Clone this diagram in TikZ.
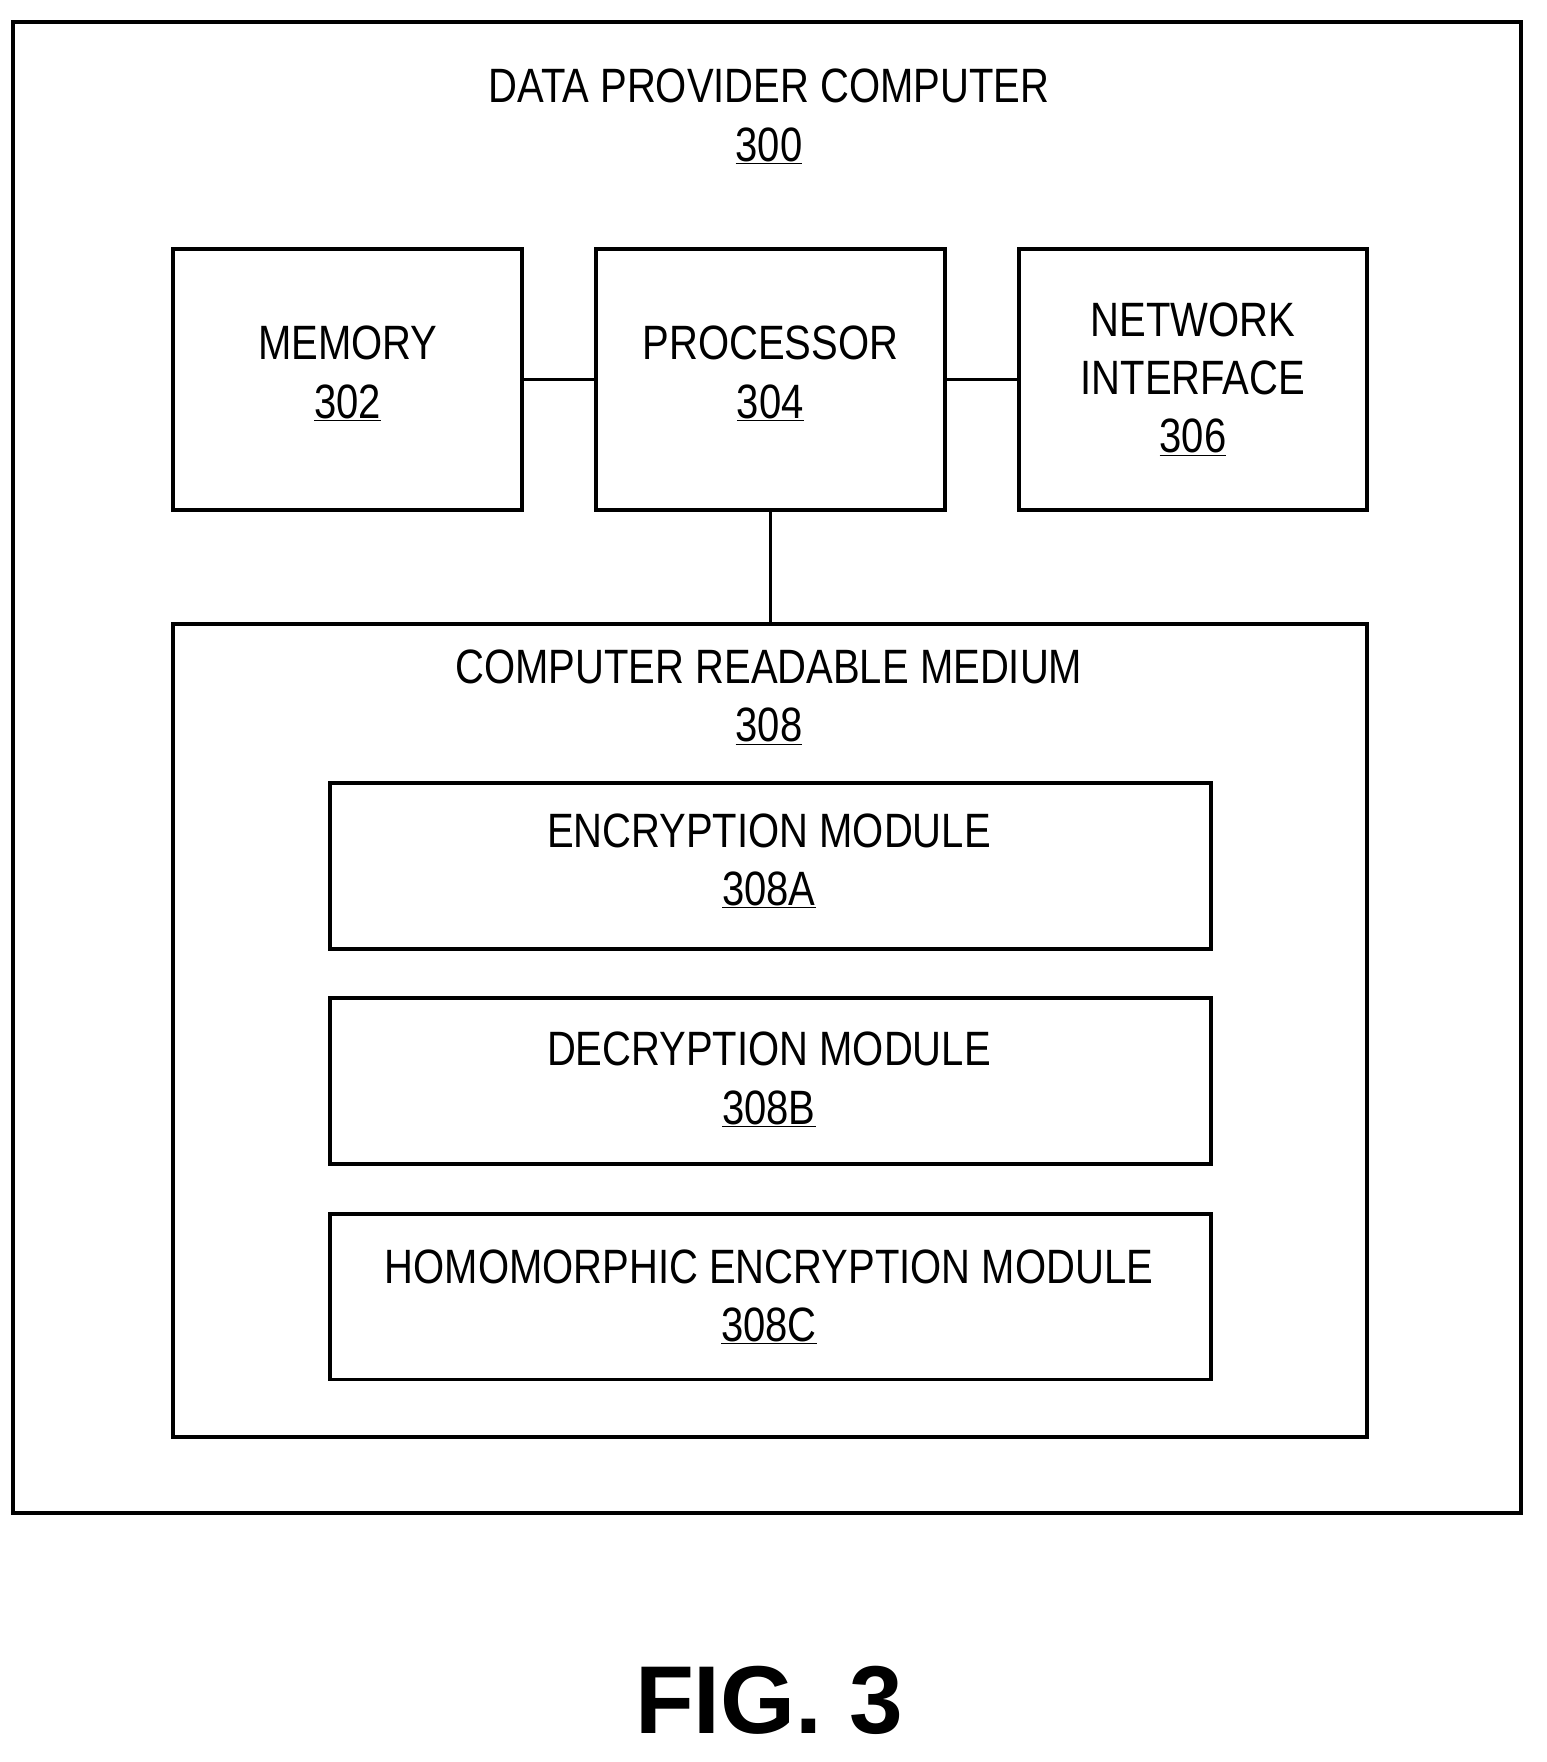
\documentclass[tikz,border=0pt]{standalone}
\usepackage{fontspec}
\setmainfont{Liberation Sans}[FakeStretch=0.83]
\newfontfamily\figfont{Liberation Sans}
\begin{document}
\begin{tikzpicture}[x=1pt,y=-1pt,
  box/.style={draw,line width=3.5pt},
  lbl/.style={font=\fontsize{43}{52}\selectfont,align=center,anchor=center},
  con/.style={line width=2.5pt}]
\useasboundingbox (0,0) rectangle (1380,1572);
\draw[box] (12,20) rectangle (1357,1350);
\node[lbl] (t300) at (686,104) {DATA PROVIDER COMPUTER\\\underline{300}};
\node[box,minimum width=311,minimum height=233,anchor=north west] (mem) at (153,220) {};
\node[box,minimum width=311,minimum height=233,anchor=north west] (proc) at (530,220) {};
\node[box,minimum width=311,minimum height=233,anchor=north west] (net) at (907,220) {};
\node[lbl] at ([yshift=5]mem.center) {MEMORY\\\underline{302}};
\node[lbl] at ([yshift=5]proc.center) {PROCESSOR\\\underline{304}};
\node[lbl] at (net.center) {NETWORK\\INTERFACE\\\underline{306}};
\node[box,minimum width=1065,minimum height=725,anchor=north west] (crm) at (153,555) {};
\node[lbl] at (686,622) {COMPUTER READABLE MEDIUM\\\underline{308}};
\node[box,minimum width=786,minimum height=148,anchor=north west] (enc) at (293,697) {};
\node[box,minimum width=786,minimum height=148,anchor=north west] (dec) at (293,889) {};
\node[box,minimum width=786,minimum height=148,anchor=north west] (hom) at (293,1081) {};
\node[lbl] at (686,768) {ENCRYPTION MODULE\\\underline{308A}};
\node[lbl] at (686,963) {DECRYPTION MODULE\\\underline{308B}};
\node[lbl] at (686,1157) {HOMOMORPHIC ENCRYPTION MODULE\\\underline{308C}};
\draw[con] (mem.east) -- (proc.west);
\draw[con] (proc.east) -- (net.west);
\draw[con] (proc.south) -- (proc.south |- crm.north);
\node[font=\figfont\bfseries\fontsize{86}{90}\selectfont] at (686,1517) {FIG. 3};
\end{tikzpicture}
\end{document}
